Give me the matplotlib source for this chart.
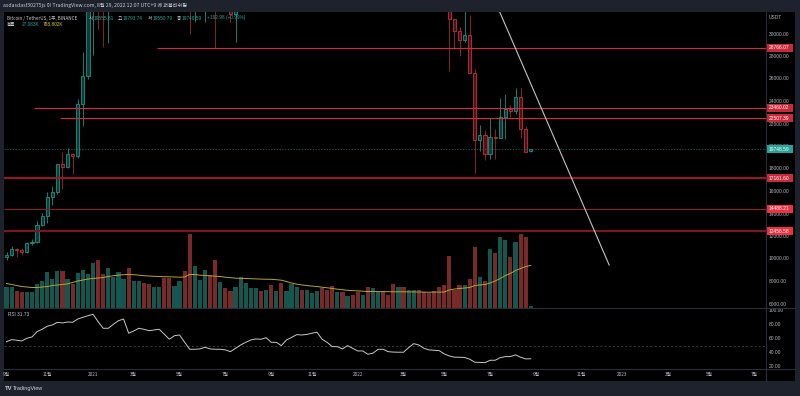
import datetime as dt
import numpy as np
import matplotlib
matplotlib.use('Agg')
import matplotlib.pyplot as plt
from matplotlib.patches import Rectangle
from matplotlib.lines import Line2D
from matplotlib.transforms import blended_transform_factory

# ---------------- data (weekly BTC/USDT, Binance) ----------------
start_date = dt.date(2020, 9, 7)

opens = [10200, 10400, 10920, 10780, 10620, 11380, 11500, 13030, 13780, 15480,
         15960, 18410, 18180, 19330, 19150, 23780, 26270, 33000, 38150, 36020,
         32260, 33090, 38800, 48600, 57400, 45250, 50900, 59000, 57400, 55800,
         57080, 59780, 56150, 49100, 56600, 58230, 46430, 34650, 35680, 35800,
         39000, 35500, 34700, 35290, 34260, 31780, 35400, 39850, 43800, 47000,
         49300, 48800, 51770, 45160, 47260, 43200, 48200, 54950, 61530, 60860,
         61300, 63300, 65500, 59700, 57270, 49400, 50100, 46680, 50780, 47300,
         41860, 43080, 36280, 37900, 42400, 42200, 38400, 37700, 38400, 37800,
         41260, 46800, 46400, 42150, 40380, 39450, 38470, 34060, 31330, 30290,
         29450, 29920, 26570, 20550, 21000, 19300, 20850, 20790, 22580, 23300,
         23180, 24440, 21530, 19555.61]
highs = [10600, 11180, 11020, 10950, 11490, 11750, 13350, 14080, 15960, 16480,
         18480, 19480, 19900, 19420, 24200, 28400, 33300, 41950, 40100, 37850,
         38500, 40950, 49700, 58350, 57550, 52600, 61800, 61180, 58400, 60200,
         61200, 64850, 57000, 58450, 59500, 59600, 46700, 40900, 39500, 39600,
         41300, 36000, 36600, 35950, 34700, 35400, 42600, 44800, 47150, 49500,
         50500, 52900, 52950, 48800, 47300, 49200, 56100, 62900, 67000, 63700,
         67800, 69000, 66300, 59900, 59100, 51900, 50700, 51950, 52100, 47550,
         44500, 43500, 38900, 45500, 45850, 44750, 39850, 45400, 42600, 42300,
         46900, 48190, 47300, 42400, 42900, 40800, 40000, 34240, 31350, 30650,
         32400, 31700, 26900, 21870, 21500, 22500, 21600, 24280, 24670, 23650,
         25210, 25210, 21800, 19793.74]
lows = [9900, 10250, 10140, 10370, 10530, 11230, 11400, 12960, 13200, 14800,
        15800, 16200, 18110, 17600, 19000, 21800, 26000, 28100, 30420, 28850,
        29240, 32300, 37300, 46700, 43000, 44950, 49300, 53200, 50400, 54800,
        55400, 51500, 47000, 48750, 52900, 42000, 30000, 31100, 34800, 31100,
        34800, 28800, 32700, 32700, 31100, 29280, 35200, 37300, 43300, 43950,
        46300, 46500, 42800, 44700, 39600, 40800, 47100, 54000, 59500, 57800,
        59400, 62300, 55600, 53250, 42000, 46800, 45500, 45550, 45700, 39650,
        39300, 34000, 32900, 36250, 41600, 38000, 34300, 37200, 37150, 37550,
        40450, 45200, 41900, 39200, 38500, 37700, 33700, 26700, 28630, 28020,
        29300, 26560, 17620, 19630, 18780, 18900, 18900, 20750, 20700, 22650,
        22850, 20760, 19520, 19550.79]
closes = [10400, 10920, 10780, 10620, 11380, 11500, 13030, 13780, 15480, 15960,
          18410, 18180, 19330, 19150, 23780, 26270, 33000, 38150, 36020, 32260,
          33090, 38800, 48600, 57400, 45250, 50900, 59000, 57400, 55800, 57080,
          59780, 56150, 49100, 56600, 58230, 46430, 34650, 35680, 35800, 39000,
          35500, 34700, 35290, 34260, 31780, 35400, 39850, 43800, 47000, 49300,
          48800, 51770, 45160, 47260, 43200, 48200, 54950, 61530, 60860, 61300,
          63300, 65500, 59700, 57270, 49400, 50100, 46680, 50780, 47300, 41860,
          43080, 36280, 37900, 42400, 42200, 38400, 37700, 38400, 37800, 41260,
          46800, 46400, 42150, 40380, 39450, 38470, 34060, 31330, 30290, 29450,
          29920, 26570, 20550, 21000, 19300, 20850, 20790, 22580, 23300, 23180,
          24440, 21530, 19555, 19748.59]
volumes_k = [376, 376, 301, 282, 282, 282, 432, 489, 658, 526,
             677, 677, 526, 432, 639, 696, 620, 827, 884, 620,
             733, 564, 658, 526, 733, 489, 489, 451, 432, 376,
             376, 545, 545, 395, 489, 677, 1372, 771, 508, 696,
             602, 884, 470, 357, 301, 376, 564, 451, 357, 357,
             301, 338, 414, 301, 451, 301, 432, 376, 338, 320,
             263, 301, 357, 320, 395, 282, 282, 207, 226, 282,
             244, 376, 357, 282, 301, 244, 432, 376, 376, 320,
             320, 320, 282, 263, 301, 376, 414, 959, 338, 414,
             414, 526, 1128, 564, 489, 1090, 1015, 1316, 1260, 940,
             1222, 1372, 1316, 27.083]
volume_ma_k = [451, 432, 413, 394, 385, 376, 376, 385, 394, 413,
               423, 432, 445, 470, 498, 516, 535, 545, 554, 563,
               582, 597, 607, 616, 620, 616, 607, 597, 592, 586,
               582, 578, 577, 573, 569, 573, 620, 620, 607, 601,
               595, 588, 582, 569, 560, 550, 548, 545, 541, 537,
               533, 531, 530, 522, 513, 488, 460, 438, 424, 413,
               402, 394, 381, 370, 357, 344, 334, 323, 317, 312,
               306, 300, 300, 299, 297, 297, 295, 295, 295, 293,
               293, 291, 289, 287, 289, 289, 291, 329, 347, 357,
               366, 376, 413, 423, 432, 460, 498, 545, 601, 639,
               695, 732, 770, 788.802]
rsi = [56, 58.9, 58, 57, 60.8, 62.7, 70.2, 73.6, 77.9, 79.7,
       83.5, 82.6, 84, 83.5, 88.2, 90.6, 92.9, 94.9, 84.4, 75,
       75, 80.7, 85.8, 88.2, 67.9, 71.2, 75, 73.6, 71.6, 72.6,
       73.6, 66.5, 59.4, 64.5, 65.5, 55.1, 45.2, 45.2, 45.7, 48.1,
       45.7, 45.2, 45.2, 44.3, 41.8, 46.6, 51.3, 55.1, 58.4, 59.9,
       59.4, 61.7, 55.1, 55.1, 50.4, 58.4, 62, 66, 65.5, 66.3,
       68, 69.4, 59.4, 55, 48.9, 48.9, 45.7, 50.4, 46.6, 42.8,
       42.8, 38.1, 39.6, 45.2, 45.2, 41.8, 41.2, 41, 41, 47.5,
       53.2, 51.3, 46.6, 44.3, 43.8, 43.3, 38.6, 35.7, 33.9, 33.9,
       33.5, 31.1, 26.8, 26.5, 26.2, 29.6, 29.6, 33.3, 34.8, 34.8,
       37.2, 33.9, 31.5, 31.73]

level_prices = [28766.07, 23460.02, 22507.39, 17161.60, 14488.21, 12456.58]
level_start_bar = [30, 6, 11, -3, 0, -3]
trend_bar = [90, 118.4]
trend_price = [39170, 9470]
last_price = 19748.59
price_ticks = list(range(6000, 30001, 2000))
rsi_ticks = [100, 80, 60, 40, 20]
time_tick_months = [(2020, 9), (2020, 11), (2021, 1), (2021, 3), (2021, 5), (2021, 7),
                    (2021, 9), (2021, 11), (2022, 1), (2022, 3), (2022, 5), (2022, 7),
                    (2022, 9), (2022, 11), (2023, 1), (2023, 3), (2023, 5), (2023, 7)]
time_tick_labels = ['9월', '11월', '2021', '3월', '5월', '7월', '9월', '11월', '2022',
                    '3월', '5월', '7월', '9월', '11월', '2023', '3월', '5월', '7월']

n = len(closes)
for arr in (opens, highs, lows, volumes_k, volume_ma_k, rsi):
    assert len(arr) == n, len(arr)

# ---------------- layout ----------------
W, H = 800, 396
FRAME = '#1e222d'
SEP = '#2a2e39'
TXT = '#b2b5be'
UP_E, UP_F, UP_W = '#1e9185', '#0c3d38', '#1e9185'
DN_E, DN_F, DN_W = '#c0303b', '#4d1217', '#a02731'
VOL_UP, VOL_DN = '#15564f', '#782a28'
KFONT = ['Noto Sans CJK KR', 'DejaVu Sans']
NFONT = 'Liberation Sans'

fig = plt.figure(figsize=(W / 100, H / 100), dpi=100, facecolor=FRAME)


def rect(x0, y0, x1, y1):
    return [x0 / W, 1 - y1 / H, (x1 - x0) / W, (y1 - y0) / H]


def clean(ax, fc='black'):
    ax.set_facecolor(fc)
    ax.set_xticks([])
    ax.set_yticks([])
    for s in ax.spines.values():
        s.set_visible(False)


bg = fig.add_axes(rect(4, 12, 795, 380.5))
clean(bg)

# price/volume pane
PY0, PY1 = 12, 307.5
px_per_k = 0.01125  # pixels per price unit
p_top = 30000 + (34 - PY0) / px_per_k
p_bot = 6000 - (PY1 - 304) / px_per_k
bar_px = 5.09
x_left = (4 - 6.5) / bar_px
x_right = (766 - 6.5) / bar_px

ax_vol = fig.add_axes(rect(4, PY0, 766, PY1))
clean(ax_vol)
ax_price = fig.add_axes(rect(4, PY0, 766, PY1))
clean(ax_price, 'none')
for a in (ax_vol, ax_price):
    a.set_xlim(x_left, x_right)
ax_price.set_ylim(p_bot, p_top)
k_per_px = 788.802 / 42.0
ax_vol.set_ylim(0, (PY1 - PY0) * k_per_px)

idx = np.arange(n)
ups = [c >= o for o, c in zip(opens, closes)]

ax_vol.bar(idx, volumes_k, width=0.82, color=[VOL_UP if u else VOL_DN for u in ups], linewidth=0)
ax_vol.plot(idx, volume_ma_k, color='#b9a330', lw=0.7)

for i in range(n):
    o, h, l, c = opens[i], highs[i], lows[i], closes[i]
    u = ups[i]
    ax_price.vlines(i, l, h, color=UP_W if u else DN_W, lw=0.6, zorder=2)
    b0 = min(o, c)
    bh = max(abs(c - o), 60)
    ax_price.add_patch(Rectangle((i - 0.32, b0), 0.64, bh,
                                 facecolor=UP_F if u else DN_F,
                                 edgecolor=UP_E if u else DN_E, lw=0.6, zorder=3))

level_style = [('#d8283a', 0.8), ('#d8283a', 0.8), ('#d8283a', 0.8),
               ('#8e1b25', 1.6), ('#8e1b25', 0.8), ('#7a1620', 1.6)]
for p, s, (col, lw) in zip(level_prices, level_start_bar, level_style):
    ax_price.hlines(p, s - 0.5, x_right + 5, color=col, lw=lw, zorder=4)

ax_price.axhline(last_price, color='#1f6f66', lw=0.5, ls=(0, (2, 2)), zorder=4)
ax_price.plot(trend_bar, trend_price, color='#c4c4c4', lw=0.8, zorder=5)

# RSI pane
RY0, RY1 = 308, 368.5
rpx = (367 - 310.7) / 80.0
r_top = 100 + (310.7 - RY0) / rpx
r_bot = 20 - (RY1 - 367) / rpx
ax_rsi = fig.add_axes(rect(4, RY0, 766, RY1))
clean(ax_rsi)
ax_rsi.set_xlim(x_left, x_right)
ax_rsi.set_ylim(r_bot, r_top)
ax_rsi.axhline(50, color='#4d4d4d', lw=0.5, ls=(0, (3, 3)))
ax_rsi.plot(idx, rsi, color='#c8c8c8', lw=0.7)

# price axis column
pax = fig.add_axes(rect(766, PY0, 795, PY1))
clean(pax)
pax.set_xlim(766, 795)
pax.set_ylim(p_bot, p_top)
tag_h = 8 / px_per_k
for p in price_ticks:
    pax.text(769, p, f'{p:.2f}', color=TXT, fontsize=3.5, family=NFONT, va='center', ha='left',
             zorder=2)
pax.text(769, 30000 + (34 - 17) / px_per_k, 'USDT', color=TXT, fontsize=3.5, family=NFONT,
         va='center', ha='left')

tag_cols = ['#c8293b', '#c8293b', '#c8293b', '#c8293b', '#ee3040', '#ee3040']


def tag(y, text, col):
    pax.add_patch(Rectangle((766.3, y - tag_h / 2), 27, tag_h, facecolor=col, edgecolor='none', zorder=5))
    pax.text(768.3, y, text, color='white', fontsize=3.5, family=NFONT, va='center', ha='left', zorder=6)


for p, col in zip(level_prices, tag_cols):
    tag(p, f'{p:.2f}', col)
tag(last_price, f'{last_price:.2f}', '#26a69a')

# RSI axis column
rax = fig.add_axes(rect(766, RY0, 795, RY1))
clean(rax)
rax.set_xlim(766, 795)
rax.set_ylim(r_bot, r_top)
for r in rsi_ticks:
    rax.text(769, r, f'{r:.2f}', color=TXT, fontsize=3.5, family=NFONT, va='center', ha='left')

# separators
for y in (307.75, 368.75):
    fig.add_artist(Line2D([4 / W, 795 / W], [1 - y / H, 1 - y / H], color=SEP, lw=0.8))
fig.add_artist(Line2D([766 / W, 766 / W], [1 - 12 / H, 1 - 380.5 / H], color=SEP, lw=0.8))


# time axis labels
def first_monday(y, m):
    d = dt.date(y, m, 1)
    while d.weekday() != 0:
        d += dt.timedelta(days=1)
    return d


tpos = [(first_monday(y, m) - start_date).days / 7 for y, m in time_tick_months]
ttr = blended_transform_factory(ax_rsi.transData, fig.transFigure)
for xpos, lab in zip(tpos, time_tick_labels):
    ax_rsi.text(xpos, 1 - 374.8 / H, lab, transform=ttr, color=TXT, fontsize=3.4,
                family=KFONT, ha='center', va='center', clip_on=False)


# header / legends
def ftext(x, y, s, col=TXT, size=3.4, fam=None, **kw):
    fig.text(x / W, 1 - y / H, s, color=col, fontsize=size, family=fam or KFONT,
             va='center', ha='left', **kw)


LG = '#c9ccd4'
ftext(3, 6, 'asdasdasf30275js 이 TradingView.com, 8월 29, 2022 12:07 UTC+9 에 퍼블리쉬됨', LG, 3.7)
TEAL = '#26a69a'
ftext(7, 18, 'Bitcoin / TetherUS, 1주, BINANCE', LG, 3.3)
ftext(89, 18, '시', LG, 3.3)
ftext(93.5, 18, f'{opens[-1]:.2f}', TEAL, 3.4, NFONT)
ftext(118, 18, '고', LG, 3.3)
ftext(122.5, 18, f'{highs[-1]:.2f}', TEAL, 3.4, NFONT)
ftext(148, 18, '저', LG, 3.3)
ftext(152.5, 18, f'{lows[-1]:.2f}', TEAL, 3.4, NFONT)
ftext(177, 18, '종', LG, 3.3)
ftext(181.5, 18, f'{closes[-1]:.2f}', TEAL, 3.4, NFONT)
ftext(207, 18, '+192.98 (+0.99%)', TEAL, 3.4, NFONT)
ftext(7, 25, '볼륨', LG, 3.3)
ftext(22, 25, f'{volumes_k[-1]:.3f}K', TEAL, 3.4, NFONT)
ftext(43, 25, f'{volume_ma_k[-1]:.3f}K', '#e0c83c', 3.4, NFONT)
ftext(8, 314.5, f'RSI {rsi[-1]:.2f}', LG, 3.4, NFONT)

# footer logo
ftext(5, 388.5, 'TV', '#d1d4dc', 4.2, NFONT, fontweight='bold')
ftext(13, 388.5, 'TradingView', '#d1d4dc', 4.0, NFONT)

fig.savefig('out.png', dpi=100, facecolor=FRAME)
